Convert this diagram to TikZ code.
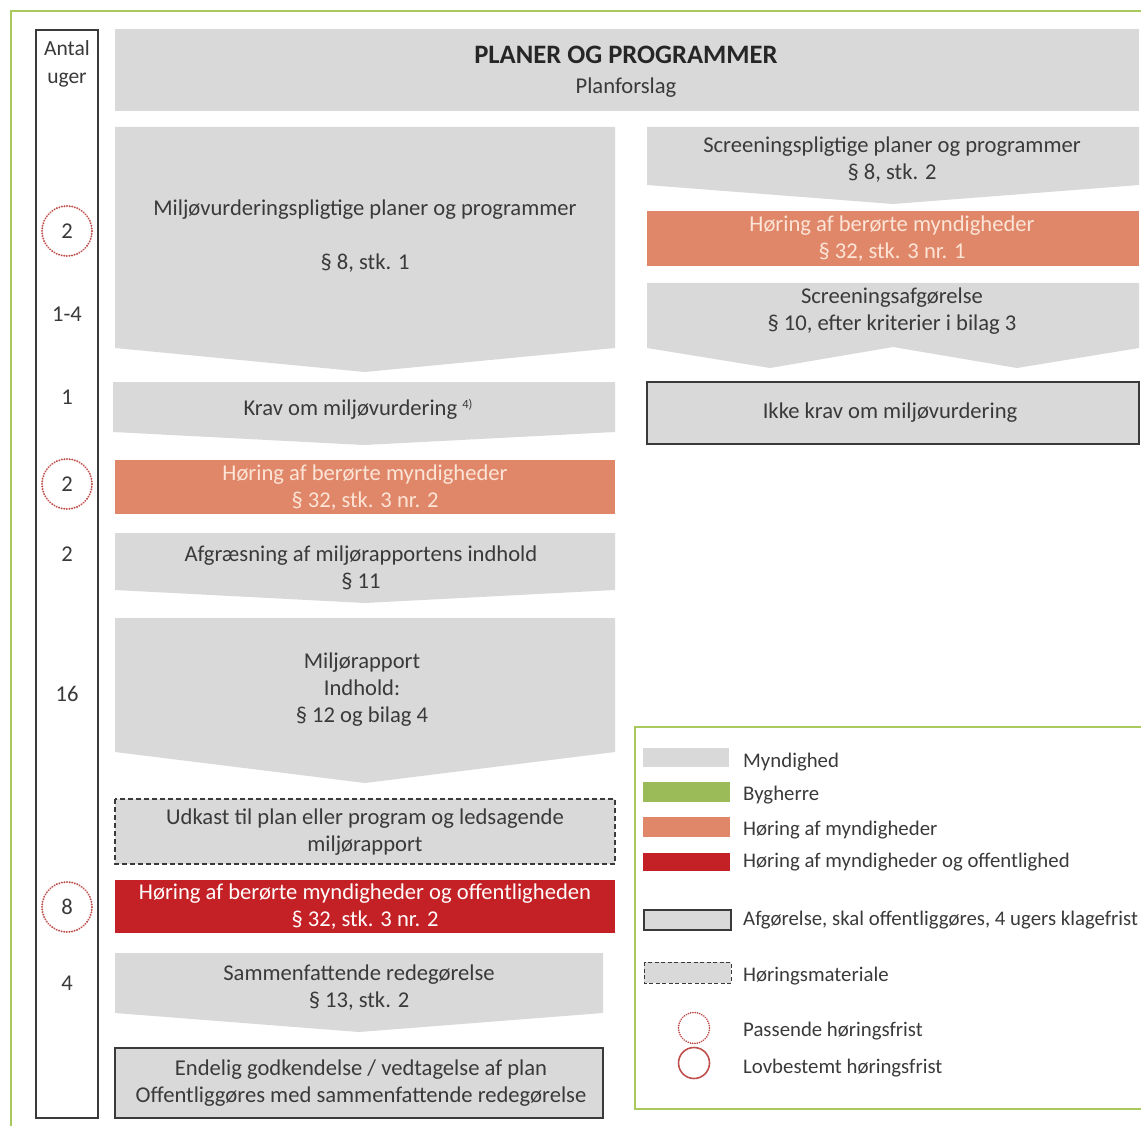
\documentclass[tikz,border=0pt]{standalone}
\usepackage{fontspec}
\setmainfont{Carlito}
\definecolor{boxgray}{HTML}{D9D9D9}
\definecolor{txtgray}{HTML}{3A3A3A}
\definecolor{horange}{HTML}{E0876A}
\definecolor{hred}{HTML}{C42127}
\definecolor{bgreen}{HTML}{9BBB59}
\definecolor{framegreen}{HTML}{A9C95F}
\definecolor{circred}{HTML}{C0504D}
\definecolor{lighttxt}{HTML}{FCE4D6}
\newcommand\chevronshape[6][boxgray]{\fill[#1] (#2,#4) -- (#3,#4) -- (#3,#5) -- ({(#2+#3)/2},#6) -- (#2,#5) -- cycle;}
\begin{document}
\begin{tikzpicture}[x=1pt,y=-1pt,
  body/.style={text=txtgray, align=center, font=\fontsize{22.6}{27}\selectfont, inner sep=0pt},
  ttl/.style={text=black!85, font=\bfseries\fontsize{26.6}{30}\selectfont, inner sep=0pt},
  lighttext/.style={body, text=lighttxt},
  whitetext/.style={body, text=white!95!pink},
  num/.style={text=txtgray, font=\fontsize{22.6}{27}\selectfont, inner sep=0pt},
  dotcirc/.style={draw=circred, line width=2.2pt, dash pattern=on 0.01pt off 2.6pt, line cap=round, circle, minimum size=50pt},
  leg/.style={text=txtgray, anchor=base west, font=\fontsize{20.8}{25}\selectfont, inner sep=0pt},
  decision/.style={fill=boxgray, draw=txtgray, line width=1.4pt},
  material/.style={fill=boxgray, draw=txtgray, line width=1.2pt, dash pattern=on 5pt off 3pt},
]
\useasboundingbox (0,0) rectangle (1141,1126);
\fill[white] (0,0) rectangle (1141,1126);
% outer frame (partly outside the picture)
\draw[framegreen, line width=1.6pt] (11,1126) -- (11,11) -- (1141,11);
% week column
\draw[txtgray, line width=1.3pt] (36,30) rectangle (98,1118);
\node[body, font=\fontsize{21.5}{28}\selectfont] (antal) at (67,64) {Antal\\uger};
\node[num, dotcirc] (w1) at (67,231) {2};
\node[num] (w2) at (67,314) {1-4};
\node[num] (w3) at (67,397) {1};
\node[num, dotcirc] (w4) at (67,484) {2};
\node[num] (w5) at (67,554) {2};
\node[num] (w6) at (67,694) {16};
\node[num, dotcirc] (w7) at (67,907) {8};
\node[num] (w8) at (67,983) {4};
% title
\fill[boxgray] (115,29) rectangle (1139,111);
\node[ttl] (title) at (626,55) {PLANER OG PROGRAMMER};
\node[body] (planforslag) at (626,88) {Planforslag};
% left column
\chevronshape{115}{615}{127}{348}{372}
\node[body] (mv) at (365,236) {Miljøvurderingspligtige planer og programmer\\[27pt]§ 8, stk. 1};
\chevronshape{113}{615}{382}{432}{445}
\node[body] (krav) at (358,409) {Krav om miljøvurdering {\fontsize{12.5}{12}\selectfont\raisebox{7pt}{4)}}};
\fill[horange] (115,460) rectangle (615,514);
\node[lighttext] (hor1) at (365,488) {Høring af berørte myndigheder\\§ 32, stk. 3 nr. 2};
\chevronshape{115}{615}{533}{590}{603}
\node[body] (afg) at (361,568) {Afgræsning af miljørapportens indhold\\§ 11};
\chevronshape{115}{615}{618}{752}{783}
\node[body] (rap) at (362,690) {Miljørapport\\Indhold:\\§ 12 og bilag 4};
\draw[material] (115,799) rectangle (615,864);
\node[body] (udk) at (365,832) {Udkast til plan eller program og ledsagende\\miljørapport};
\fill[hred] (115,880) rectangle (615,933);
\node[whitetext] (hor2) at (365,907) {Høring af berørte myndigheder og offentligheden\\§ 32, stk. 3 nr. 2};
\chevronshape{115}{603}{953}{1013}{1032}
\node[body] (sam) at (359,988) {Sammenfattende redegørelse\\§ 13, stk. 2};
\draw[decision] (115,1048) rectangle (603,1118);
\node[body] (end) at (361,1083) {Endelig godkendelse / vedtagelse af plan\\Offentliggøres med sammenfattende redegørelse};
% right column
\chevronshape{647}{1139}{127}{185}{204}
\node[body] (scr) at (892,160) {Screeningspligtige planer og programmer\\§ 8, stk. 2};
\fill[horange] (647,211) rectangle (1139,266);
\node[lighttext] (hor3) at (892,239) {Høring af berørte myndigheder\\§ 32, stk. 3 nr. 1};
\fill[boxgray] (647,283) -- (1139,283) -- (1139,348) -- (1017,368) -- (893,347) -- (770,368) -- (647,348) -- cycle;
\node[body] (scrafg) at (892,311) {Screeningsafgørelse\\§ 10, efter kriterier i bilag 3};
\draw[decision] (647,382) rectangle (1139,444);
\node[body] (ikke) at (890,413) {Ikke krav om miljøvurdering};
% legend
\draw[framegreen, line width=1.6pt] (1141,727) -- (635,727) -- (635,1109) -- (1141,1109);
\fill[boxgray] (643,748) rectangle (729,767);
\node[leg] (l1) at (743,767) {Myndighed};
\fill[bgreen] (643,782) rectangle (730,802);
\node[leg] (l2) at (743,800) {Bygherre};
\fill[horange] (643,817) rectangle (730,837);
\node[leg] (l3) at (743,835) {Høring af myndigheder};
\fill[hred] (643,853) rectangle (730,871);
\node[leg] (l4) at (743,867) {Høring af myndigheder og offentlighed};
\draw[decision, line width=1.2pt] (644,910) rectangle (731,930);
\node[leg] (l5) at (743,925) {Afgørelse, skal offentliggøres, 4 ugers klagefrist};
\draw[material, line width=1pt, dash pattern=on 4pt off 2.5pt] (644,962) rectangle (731,983);
\node[leg] (l6) at (743,981) {Høringsmateriale};
\node[dotcirc, minimum size=31pt, line width=1.9pt, dash pattern=on 0.01pt off 2.3pt] (c1) at (694,1028) {};
\node[leg] (l7) at (743,1036) {Passende høringsfrist};
\node[circle, draw=circred, line width=1.6pt, minimum size=31pt, inner sep=0pt] (c2) at (694,1063) {};
\node[leg] (l8) at (743,1073) {Lovbestemt høringsfrist};
\end{tikzpicture}
\end{document}
